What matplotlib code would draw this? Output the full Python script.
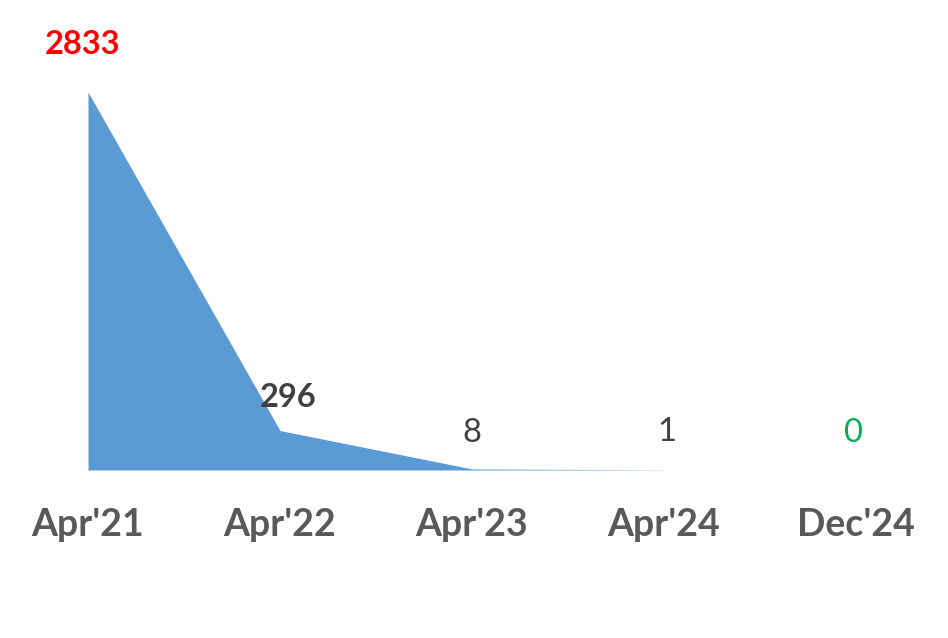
import matplotlib.pyplot as plt

periods = ["Apr'21", "Apr'22", "Apr'23", "Apr'24", "Dec'24"]
counts = [2833, 296, 8, 1, 0]
label_colors = ['#FF0000', '#404040', '#404040', '#404040', '#00B050']
label_weights = ['bold', 'bold', 'normal', 'normal', 'normal']
label_offsets = [34, 24, 26, 27, 27]   # points above the value
label_dx = [-4, 6, 0, 2, -2]

plt.rcParams['font.family'] = ['Lato', 'DejaVu Sans']

fig = plt.figure(figsize=(9.48, 6.38), dpi=100)
ax = fig.add_axes([0, 168 / 638, 1, 378 / 638])

xs = list(range(len(periods)))
# area drawn through Apr'24; Dec'24 has no area
ax.fill_between(xs[:4], counts[:4], 0, color='#5B9BD5', linewidth=0)

for x, v, c, w, dy, dx in zip(xs, counts, label_colors, label_weights, label_offsets, label_dx):
    ax.annotate(str(v), (x, v), xytext=(dx, dy), textcoords='offset points',
                ha='center', va='center', fontsize=23.5, color=c, fontweight=w)

ax.set_xlim(-88 / 192, (948 - 88) / 192)
ax.set_ylim(0, 2833)
ax.set_xticks(xs)
ax.set_xticklabels(periods, fontsize=27, fontweight='bold', color='#595959')
ax.tick_params(axis='x', length=0, pad=27)
ax.set_yticks([])
for s in ax.spines.values():
    s.set_visible(False)
ax.patch.set_alpha(0)

fig.savefig('out.png', dpi=100)
